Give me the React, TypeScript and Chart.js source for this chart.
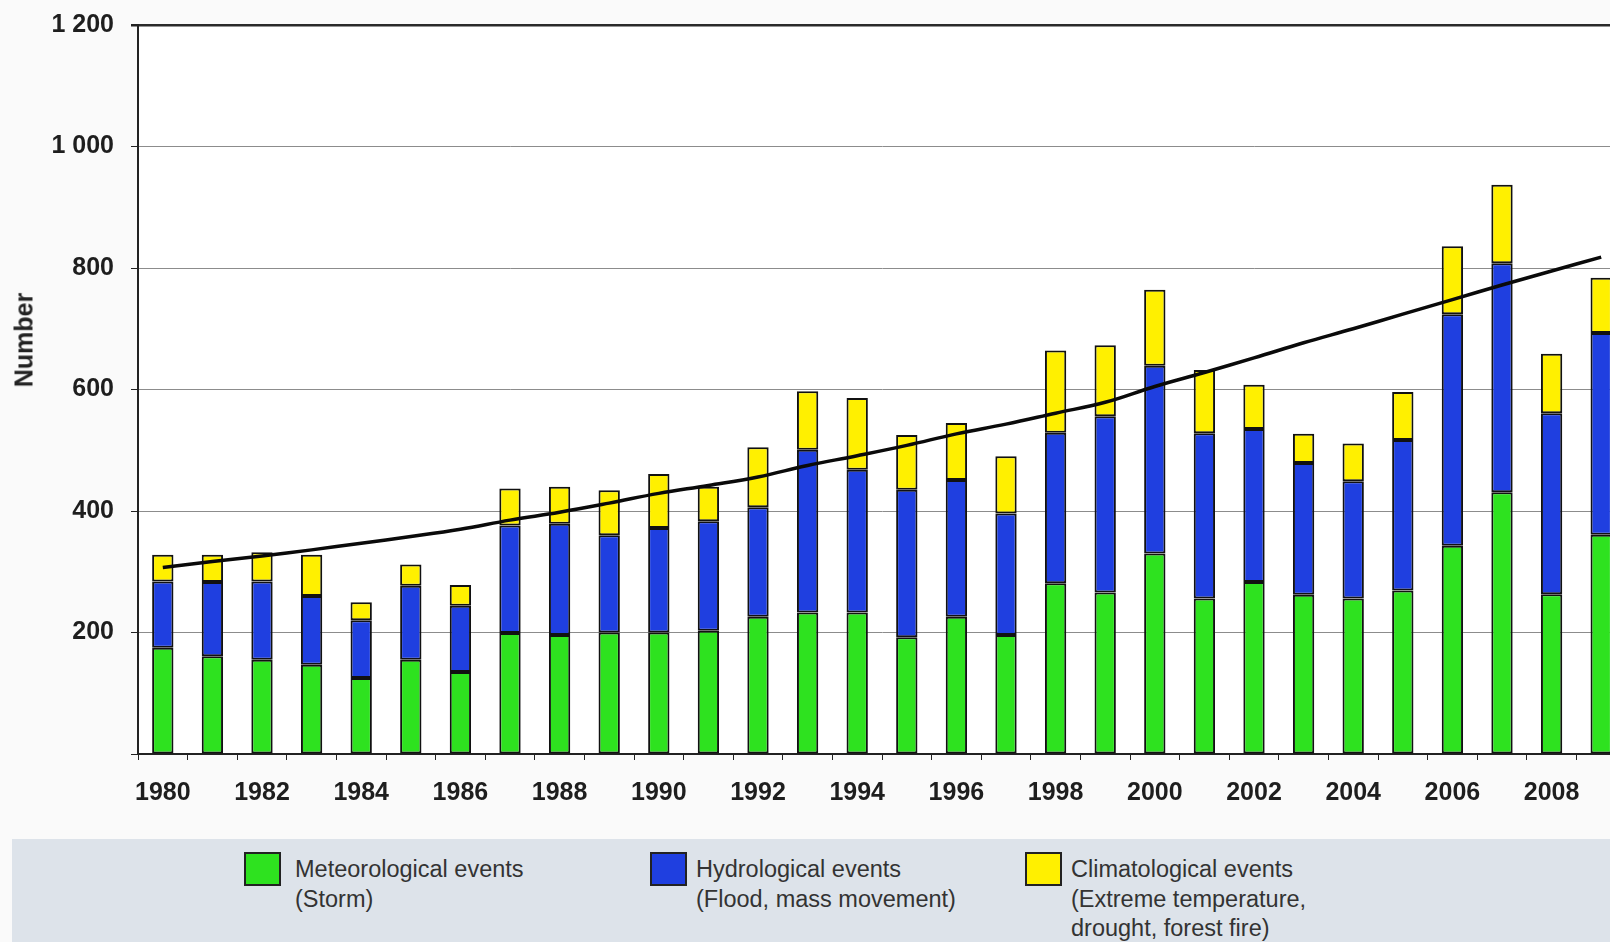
import React, { useEffect, useRef } from "react";
import { Chart, registerables } from "chart.js";

Chart.register(...registerables);

const years = [
  "1980", "1981", "1982", "1983", "1984", "1985", "1986", "1987", "1988", "1989",
  "1990", "1991", "1992", "1993", "1994", "1995", "1996", "1997", "1998", "1999",
  "2000", "2001", "2002", "2003", "2004", "2005", "2006", "2007", "2008", "2009",
];

const meteorological = [
  175, 161, 155, 147, 125, 155, 135, 199, 196, 200,
  200, 203, 226, 233, 233, 192, 226, 196, 281, 266,
  330, 256, 283, 262, 256, 269, 343, 431, 263, 361,
];

const hydrological = [
  109, 122, 129, 113, 95, 122, 109, 177, 183, 160,
  172, 180, 180, 268, 235, 243, 225, 200, 248, 290,
  309, 272, 252, 217, 193, 248, 381, 377, 298, 332,
];

const climatological = [
  44, 45, 48, 68, 30, 35, 34, 61, 61, 74,
  89, 57, 99, 96, 118, 90, 94, 94, 135, 117,
  125, 104, 73, 48, 62, 79, 112, 129, 98, 91,
];

const trend = [
  307, 317, 326, 336, 347, 358, 370, 385, 398, 413,
  429, 442, 456, 475, 491, 508, 527, 543, 561, 579,
  605, 628, 652, 677, 700, 724, 748, 772, 795, 818,
];

const yTicks = [0, 200, 400, 600, 800, 1000, 1200];

const legendItems = [
  { color: "#2EE21F", lines: ["Meteorological events", "(Storm)"], box: 244, text: 295 },
  { color: "#1F3FE0", lines: ["Hydrological events", "(Flood, mass movement)"], box: 650, text: 696 },
  { color: "#FFF000", lines: ["Climatological events", "(Extreme temperature,", "drought, forest fire)"], box: 1025, text: 1071 },
];

const FONT = "'Liberation Sans', Arial, sans-serif";

const bgPlugin = {
  id: "bgPlugin",
  beforeDraw(chart: any) {
    const { ctx, chartArea } = chart;
    ctx.save();
    ctx.fillStyle = "#FAFAFA";
    ctx.fillRect(0, 0, chart.width, chart.height);
    ctx.fillStyle = "#FFFFFF";
    ctx.fillRect(chartArea.left, chartArea.top, chartArea.right - chartArea.left, chartArea.bottom - chartArea.top);
    ctx.restore();
  },
};

function fmt(v: number) {
  if (v === 0) return "";
  return String(v).replace(/\B(?=(\d{3})+(?!\d))/g, " ");
}

export default function App() {
  const ref = useRef<HTMLCanvasElement | null>(null);

  useEffect(() => {
    if (!ref.current) return;
    const barCommon = {
      borderColor: "#111111",
      borderWidth: 2,
      borderSkipped: false as const,
      barPercentage: 0.43,
      categoryPercentage: 1.0,
      stack: "events",
      order: 1,
    };
    const chart = new Chart(ref.current, {
      type: "bar",
      data: {
        labels: years,
        datasets: [
          { ...barCommon, type: "bar", label: "Meteorological events", data: meteorological, backgroundColor: legendItems[0].color },
          { ...barCommon, type: "bar", label: "Hydrological events", data: hydrological, backgroundColor: legendItems[1].color },
          { ...barCommon, type: "bar", label: "Climatological events", data: climatological, backgroundColor: legendItems[2].color },
          {
            type: "line",
            label: "Trend",
            data: trend,
            borderColor: "#0A0A0A",
            borderWidth: 3.5,
            pointRadius: 0,
            tension: 0.4,
            fill: false,
            stack: "trend",
            order: 0,
          } as any,
        ],
      },
      options: {
        responsive: false,
        animation: false,
        devicePixelRatio: 1,
        layout: { padding: { top: 25, right: 0, bottom: 0, left: 0 } },
        plugins: {
          legend: { display: false },
          tooltip: { enabled: false },
          title: { display: false },
        },
        scales: {
          x: {
            stacked: true,
            offset: true,
            afterFit: (scale: any) => {
              scale.height = 86;
              scale.paddingLeft = 0;
              scale.paddingRight = 0;
            },
            grid: {
              display: true,
              drawOnChartArea: false,
              drawTicks: true,
              tickLength: 6,
              tickColor: "#222222",
              offset: true,
            },
            border: { display: true, color: "#222222", width: 2 },
            ticks: {
              autoSkip: false,
              maxRotation: 0,
              minRotation: 0,
              padding: 18,
              color: "#1E1E1E",
              font: { family: FONT, size: 25, weight: "bold" },
              callback: (_v: any, i: number) => (Number(years[i]) % 2 === 0 ? years[i] : ""),
            },
          },
          y: {
            stacked: true,
            min: 0,
            max: 1200,
            afterFit: (scale: any) => {
              scale.width = 138;
              scale.paddingTop = 0;
              scale.paddingBottom = 0;
            },
            afterBuildTicks: (scale: any) => {
              scale.ticks = yTicks.map((v) => ({ value: v }));
            },
            grid: {
              color: (c: any) => (c.tick && c.tick.value === 1200 ? "#2A2A2A" : "#8C8C8C"),
              lineWidth: (c: any) => (c.tick && c.tick.value === 1200 ? 2.5 : 1),
              drawTicks: true,
              tickLength: 7,
              tickColor: "#222222",
            },
            border: { display: true, color: "#222222", width: 2 },
            ticks: {
              padding: 17,
              color: "#1E1E1E",
              font: { family: FONT, size: 25, weight: "bold" },
              callback: (v: any) => fmt(Number(v)),
            },
          },
        },
      },
      plugins: [bgPlugin],
    });
    return () => chart.destroy();
  }, []);

  return (
    <div
      style={{
        position: "fixed",
        left: 0,
        top: 0,
        width: 1610,
        height: 942,
        overflow: "hidden",
        background: "#FAFAFA",
        fontFamily: FONT,
      }}
    >
      <canvas ref={ref} width={1626} height={840} style={{ position: "absolute", left: 0, top: 0 }} />
      <div
        style={{
          position: "absolute",
          left: 24,
          top: 340,
          transform: "translate(-50%, -50%) rotate(-90deg)",
          fontWeight: "bold",
          fontSize: 25,
          color: "#222",
          whiteSpace: "nowrap",
        }}
      >
        Number
      </div>
      <div
        style={{
          position: "absolute",
          left: 12,
          top: 839,
          width: 1610 - 12,
          height: 942 - 839,
          background: "#DDE3EA",
        }}
      />
      {legendItems.map((it) => (
        <React.Fragment key={it.lines[0]}>
          <div
            style={{
              position: "absolute",
              left: it.box,
              top: 852,
              width: 37,
              height: 34,
              boxSizing: "border-box",
              border: "2px solid #222",
              background: it.color,
            }}
          />
          <div
            style={{
              position: "absolute",
              left: it.text,
              top: 855,
              fontSize: 23.5,
              lineHeight: "29.5px",
              color: "#333",
              whiteSpace: "nowrap",
            }}
          >
            {it.lines.map((l) => (
              <div key={l}>{l}</div>
            ))}
          </div>
        </React.Fragment>
      ))}
    </div>
  );
}
